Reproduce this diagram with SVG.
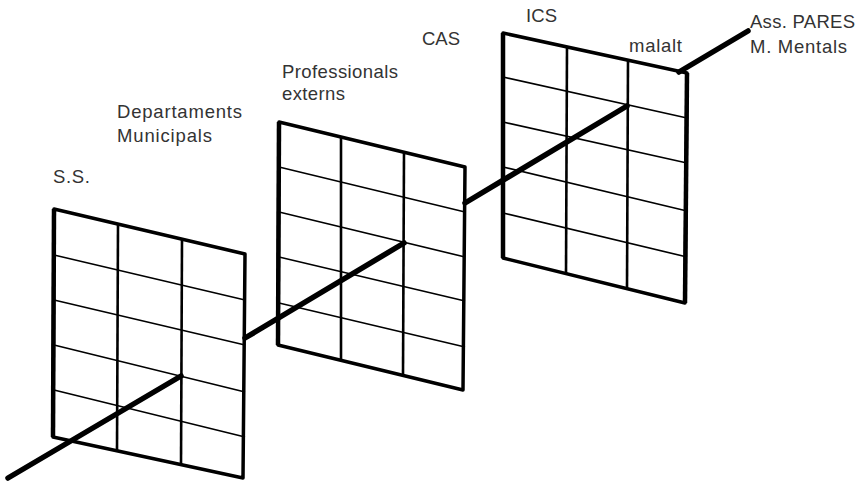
<svg xmlns="http://www.w3.org/2000/svg" width="865" height="481" viewBox="0 0 865 481">
  <style>
    .frame { fill: none; stroke: #000; stroke-width: 3.5; stroke-linejoin: round; }
    .edge { fill: none; stroke: #000; stroke-width: 4.5; }
    .row { stroke: #000; stroke-width: 1.6; }
    .col { stroke: #000; stroke-width: 2.6; }
    .axis { stroke: #000; stroke-width: 5.5; stroke-linecap: round; }
    .lbl { font-family: "Liberation Sans", Arial, Helvetica, sans-serif; font-size: 18.5px; fill: #333; }
  </style>
  <rect width="865" height="481" fill="#fff"/>

  <g id="panel-ss">
    <polygon class="frame" points="54,209 245,254 243,478 53,437"/>
    <line class="edge" x1="54" y1="209" x2="53" y2="437"/>
    <line class="col" x1="118" y1="225" x2="117" y2="451"/>
    <line class="col" x1="182" y1="240" x2="181" y2="465"/>
    <line class="row" x1="54" y1="255" x2="245" y2="300"/>
    <line class="row" x1="54" y1="300" x2="245" y2="345"/>
    <line class="row" x1="54" y1="345" x2="245" y2="392"/>
    <line class="row" x1="54" y1="390" x2="245" y2="437"/>
  </g>

  <g id="panel-professionals">
    <polygon class="frame" points="279,122 465,167 463,390 278,345"/>
    <line class="edge" x1="279" y1="122" x2="278" y2="345"/>
    <line class="col" x1="341" y1="137" x2="341" y2="359"/>
    <line class="col" x1="404" y1="152" x2="403" y2="375"/>
    <line class="row" x1="279" y1="167" x2="465" y2="212"/>
    <line class="row" x1="279" y1="212" x2="465" y2="257"/>
    <line class="row" x1="279" y1="257" x2="465" y2="301"/>
    <line class="row" x1="279" y1="303" x2="465" y2="347"/>
  </g>

  <g id="panel-ics">
    <polygon class="frame" points="503,33 687,73 685,303 503,258"/>
    <line class="edge" x1="503" y1="33" x2="503" y2="258"/>
    <line class="edge" x1="687" y1="73" x2="685" y2="303"/>
    <line class="col" x1="567" y1="47" x2="566" y2="274"/>
    <line class="col" x1="628" y1="60" x2="627" y2="288"/>
    <line class="row" x1="503" y1="77" x2="687" y2="118"/>
    <line class="row" x1="503" y1="122" x2="687" y2="163"/>
    <line class="row" x1="503" y1="167" x2="687" y2="211"/>
    <line class="row" x1="503" y1="213" x2="687" y2="257"/>
  </g>

  <g id="connectors">
    <line class="axis" x1="8" y1="478" x2="181" y2="376"/>
    <line class="axis" x1="245" y1="338" x2="404" y2="243"/>
    <line class="axis" x1="465" y1="203" x2="627" y2="106"/>
    <line class="axis" x1="679" y1="72" x2="748" y2="31"/>
  </g>

  <g id="labels">
    <text class="lbl" x="53" y="183" textLength="37" lengthAdjust="spacing">S.S.</text>
    <text class="lbl" x="117" y="118" textLength="125" lengthAdjust="spacing">Departaments</text>
    <text class="lbl" x="117" y="142" textLength="95" lengthAdjust="spacing">Municipals</text>
    <text class="lbl" x="282" y="78" textLength="116" lengthAdjust="spacing">Professionals</text>
    <text class="lbl" x="282" y="100" textLength="63" lengthAdjust="spacing">externs</text>
    <text class="lbl" x="422" y="45" textLength="38" lengthAdjust="spacing">CAS</text>
    <text class="lbl" x="526" y="22" textLength="31" lengthAdjust="spacing">ICS</text>
    <text class="lbl" x="629" y="52" textLength="53" lengthAdjust="spacing">malalt</text>
    <text class="lbl" x="750" y="28" textLength="105" lengthAdjust="spacing">Ass. PARES</text>
    <text class="lbl" x="750" y="53" textLength="97" lengthAdjust="spacing">M. Mentals</text>
  </g>
</svg>
